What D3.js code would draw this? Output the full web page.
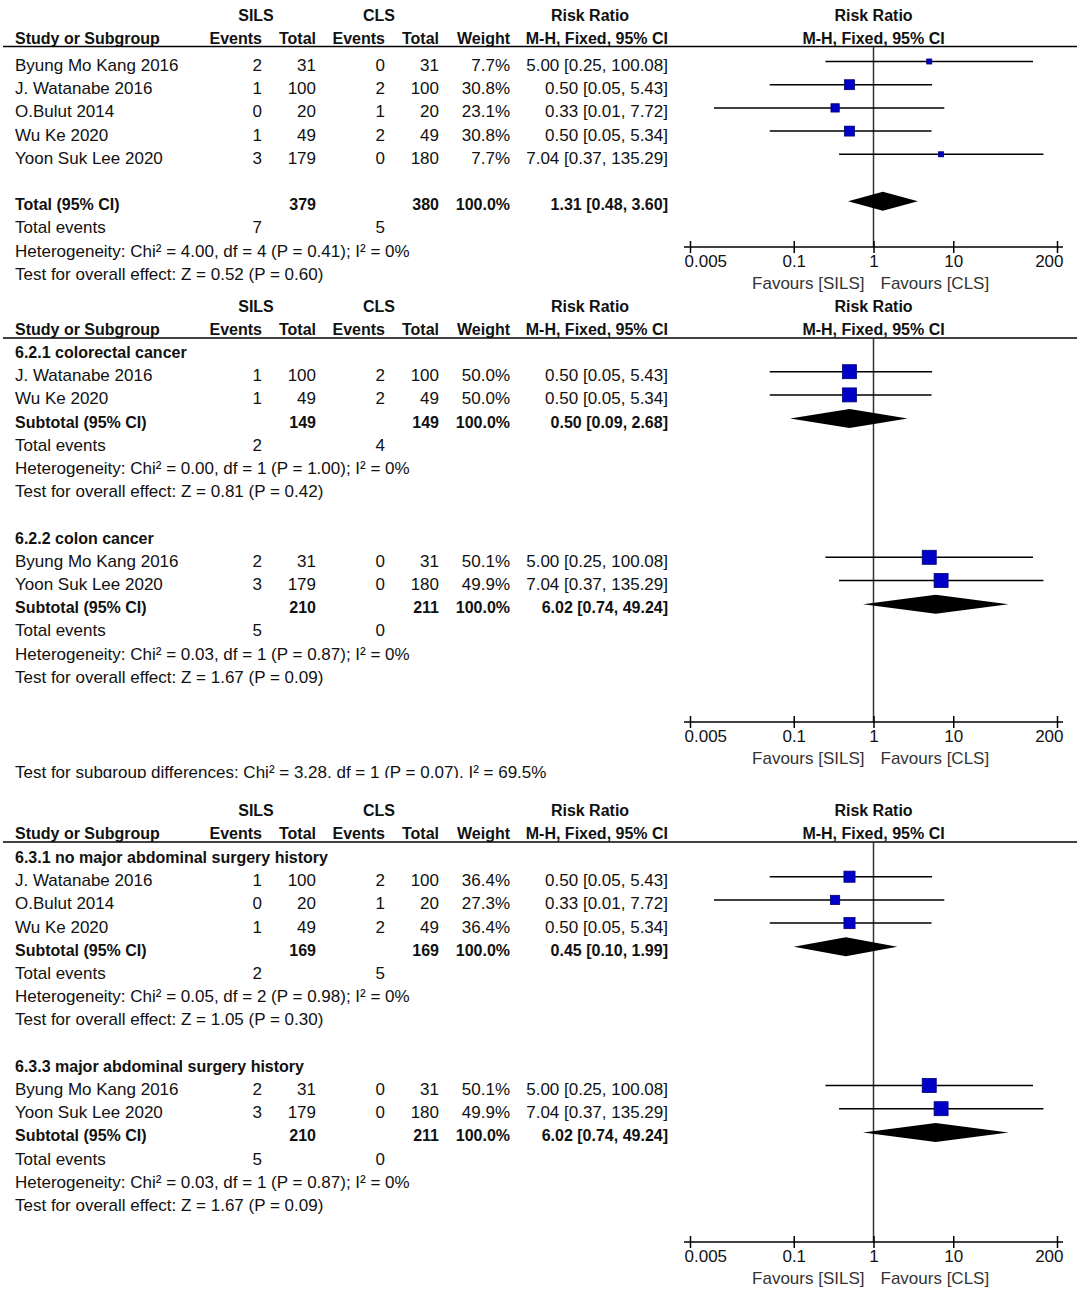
<!DOCTYPE html>
<html>
<head>
<meta charset="utf-8">
<script src="https://cdn.jsdelivr.net/npm/d3@7"></script>
<style>
body { margin: 0; background: #fff; }
svg text { font-family: "Liberation Sans", Arial, sans-serif; font-size: 17px; fill: #111; }
svg text.b { font-weight: bold; font-size: 16px; }
</style>
</head>
<body>
<div id="chart"></div>
<script>
// studies
var studies   = ["Byung Mo Kang 2016", "J. Watanabe 2016", "O.Bulut 2014", "Wu Ke 2020", "Yoon Suk Lee 2020"];
var silsEvents = [2, 1, 0, 1, 3];
var silsTotal  = [31, 100, 20, 49, 179];
var clsEvents  = [0, 2, 1, 2, 0];
var clsTotal   = [31, 100, 20, 49, 180];
var rr     = [5.00, 0.50, 0.33, 0.50, 7.04];
var rrLow  = [0.25, 0.05, 0.01, 0.05, 0.37];
var rrHigh = [100.08, 5.43, 7.72, 5.34, 135.29];

// subgroups (index 0 = overall analysis)
var subgroupNames   = ["", "6.2.1 colorectal cancer", "6.2.2 colon cancer", "6.3.1 no major abdominal surgery history", "6.3.3 major abdominal surgery history"];
var subgroupStudies = [[0, 1, 2, 3, 4], [1, 3], [0, 4], [1, 2, 3], [0, 4]];
var subgroupWeights = [[7.7, 30.8, 23.1, 30.8, 7.7], [50.0, 50.0], [50.1, 49.9], [36.4, 27.3, 36.4], [50.1, 49.9]];
var pooledWeight = [100.0, 100.0, 100.0, 100.0, 100.0];
var pooledRR   = [1.31, 0.50, 6.02, 0.45, 6.02];
var pooledLow  = [0.48, 0.09, 0.74, 0.10, 0.74];
var pooledHigh = [3.60, 2.68, 49.24, 1.99, 49.24];
var hetChi = ["4.00", "0.00", "0.03", "0.05", "0.03"];
var hetDf  = [4, 1, 1, 2, 1];
var hetP   = ["0.41", "1.00", "0.87", "0.98", "0.87"];
var zValue = ["0.52", "0.81", "1.67", "1.05", "1.67"];
var zP     = ["0.60", "0.42", "0.09", "0.30", "0.09"];

// which subgroups go in which panel
var panelSubgroups = [[0], [1, 2], [3, 4]];
var subgroupDiff = "Test for subgroup differences: Chi\u00b2 = 3.28, df = 1 (P = 0.07), I\u00b2 = 69.5%";

var axisTicks = [0.005, 0.1, 1, 10, 200];

// layout
var lineY   = [46.5, 338, 842];
var firstY  = [65, 352, 857];
var axisY   = [247, 722, 1242];
var step = 23.2;
var colX = [262, 316, 385, 439, 510, 668];
var leftX = 15;

var svg = d3.select("#chart").append("svg")
    .attr("width", 1084)
    .attr("height", 1306);

var x = d3.scaleLog().domain([0.005, 200]).range([690, 1057]);
var boxSize = d3.scaleLinear().domain([0, 50]).range([3.4, 14]);
var f2 = d3.format(".2f");
var f1 = d3.format(".1f");

function ciText(m, l, h) { return f2(m) + " [" + f2(l) + ", " + f2(h) + "]"; }

function txt(g, xx, yy, s, anchor, bold) {
    return g.append("text")
        .attr("x", xx)
        .attr("y", yy)
        .attr("text-anchor", anchor || "start")
        .attr("class", bold ? "b" : null)
        .text(s);
}

function buildRows(p) {
    var rows = [];
    panelSubgroups[p].forEach(function(g, k) {
        if (k > 0) rows.push({type: "blank"});
        if (subgroupNames[g]) rows.push({type: "heading", g: g});
        subgroupStudies[g].forEach(function(s, j) {
            rows.push({type: "study", s: s, w: subgroupWeights[g][j]});
        });
        if (p == 0) rows.push({type: "blank"});
        rows.push({type: "pooled", g: g});
        rows.push({type: "events", g: g});
        rows.push({type: "het", g: g});
        rows.push({type: "z", g: g});
    });
    return rows;
}

panelSubgroups.forEach(function(sg, p) {
    var g = svg.append("g");
    var ly = lineY[p];

    //Kopfzeilen
    txt(g, 256, ly - 26, "SILS", "middle", true);
    txt(g, 379, ly - 26, "CLS", "middle", true);
    txt(g, 590, ly - 26, "Risk Ratio", "middle", true);
    txt(g, x(1), ly - 26, "Risk Ratio", "middle", true);
    txt(g, leftX, ly - 3, "Study or Subgroup", "start", true);
    txt(g, colX[0], ly - 3, "Events", "end", true);
    txt(g, colX[1], ly - 3, "Total", "end", true);
    txt(g, colX[2], ly - 3, "Events", "end", true);
    txt(g, colX[3], ly - 3, "Total", "end", true);
    txt(g, colX[4], ly - 3, "Weight", "end", true);
    txt(g, colX[5], ly - 3, "M-H, Fixed, 95% CI", "end", true);
    txt(g, x(1), ly - 3, "M-H, Fixed, 95% CI", "middle", true);

    g.append("line")
        .attr("x1", 3).attr("x2", 1077)
        .attr("y1", ly).attr("y2", ly)
        .attr("stroke", "#000").attr("stroke-width", 1.6);

    //Nulllinie
    g.append("line")
        .attr("x1", x(1)).attr("x2", x(1))
        .attr("y1", ly).attr("y2", axisY[p])
        .attr("stroke", "#333").attr("stroke-width", 1.5);

    var rows = buildRows(p);
    rows.forEach(function(r, i) {
        var cy = firstY[p] + i * step;
        var by = cy + 6;
        var my = cy - 3.5;
        if (r.type == "heading") {
            txt(g, leftX, by, subgroupNames[r.g], "start", true);
        } else if (r.type == "study") {
            var s = r.s;
            txt(g, leftX, by, studies[s]);
            txt(g, colX[0], by, silsEvents[s], "end");
            txt(g, colX[1], by, silsTotal[s], "end");
            txt(g, colX[2], by, clsEvents[s], "end");
            txt(g, colX[3], by, clsTotal[s], "end");
            txt(g, colX[4], by, f1(r.w) + "%", "end");
            txt(g, colX[5], by, ciText(rr[s], rrLow[s], rrHigh[s]), "end");
            g.append("line")
                .attr("x1", x(rrLow[s])).attr("x2", x(rrHigh[s]))
                .attr("y1", my).attr("y2", my)
                .attr("stroke", "#000").attr("stroke-width", 1.5);
            var bs = boxSize(r.w);
            g.append("rect")
                .attr("x", x(rr[s]) - bs / 2)
                .attr("y", my - bs / 2)
                .attr("width", bs).attr("height", bs)
                .attr("fill", "#0000c8")
                .attr("stroke", "#00006e").attr("stroke-width", 0.8);
        } else if (r.type == "pooled") {
            var gg = r.g;
            var st = subgroupStudies[gg];
            txt(g, leftX, by, p == 0 ? "Total (95% CI)" : "Subtotal (95% CI)", "start", true);
            txt(g, colX[1], by, d3.sum(st, function(s) { return silsTotal[s]; }), "end", true);
            txt(g, colX[3], by, d3.sum(st, function(s) { return clsTotal[s]; }), "end", true);
            txt(g, colX[4], by, f1(pooledWeight[gg]) + "%", "end", true);
            txt(g, colX[5], by, ciText(pooledRR[gg], pooledLow[gg], pooledHigh[gg]), "end", true);
            var dy = cy - 3;
            var pts = [[x(pooledLow[gg]), dy], [x(pooledRR[gg]), dy - 9.5], [x(pooledHigh[gg]), dy], [x(pooledRR[gg]), dy + 9.5]];
            g.append("path")
                .attr("d", d3.line()(pts) + "Z")
                .attr("fill", "#000");
        } else if (r.type == "events") {
            var st2 = subgroupStudies[r.g];
            txt(g, leftX, by, "Total events");
            txt(g, colX[0], by, d3.sum(st2, function(s) { return silsEvents[s]; }), "end");
            txt(g, colX[2], by, d3.sum(st2, function(s) { return clsEvents[s]; }), "end");
        } else if (r.type == "het") {
            txt(g, leftX, by, "Heterogeneity: Chi\u00b2 = " + hetChi[r.g] + ", df = " + hetDf[r.g] +
                " (P = " + hetP[r.g] + "); I\u00b2 = 0%");
        } else if (r.type == "z") {
            txt(g, leftX, by, "Test for overall effect: Z = " + zValue[r.g] + " (P = " + zP[r.g] + ")");
        }
    });

    //Achse
    var ax = g.append("g")
        .attr("transform", "translate(0," + axisY[p] + ")")
        .call(d3.axisBottom(x).tickValues(axisTicks).tickFormat(d3.format("~g")).tickSizeOuter(0).tickSizeInner(6));
    ax.select(".domain").remove();
    ax.append("line")
        .attr("x1", x.range()[0] - 6).attr("x2", x.range()[1] + 6)
        .attr("stroke", "#000").attr("stroke-width", 1.5);
    ax.selectAll(".tick line").attr("y1", -6).attr("y2", 6).attr("stroke", "#000").attr("stroke-width", 1.5);
    ax.selectAll(".tick text")
        .attr("y", 8)
        .style("font-family", '"Liberation Sans", Arial, sans-serif')
        .style("font-size", "17px")
        .attr("fill", "#222");
    ax.selectAll(".tick text").filter(function(d) { return d == axisTicks[0]; })
        .attr("text-anchor", "start").attr("dx", -6);
    ax.selectAll(".tick text").filter(function(d) { return d == axisTicks[axisTicks.length - 1]; })
        .attr("text-anchor", "end").attr("dx", 6);

    txt(g, x(1) - 9, axisY[p] + 42, "Favours [SILS]", "end").style("fill", "#333");
    txt(g, x(1) + 7, axisY[p] + 42, "Favours [CLS]", "start").style("fill", "#333");
});

// Test for subgroup differences (unten abgeschnitten wie im Bild)
svg.append("clipPath").attr("id", "cut")
    .append("rect").attr("x", 0).attr("y", 755).attr("width", 700).attr("height", 23);
txt(svg, leftX, 778, subgroupDiff).attr("clip-path", "url(#cut)");
</script>
</body>
</html>
